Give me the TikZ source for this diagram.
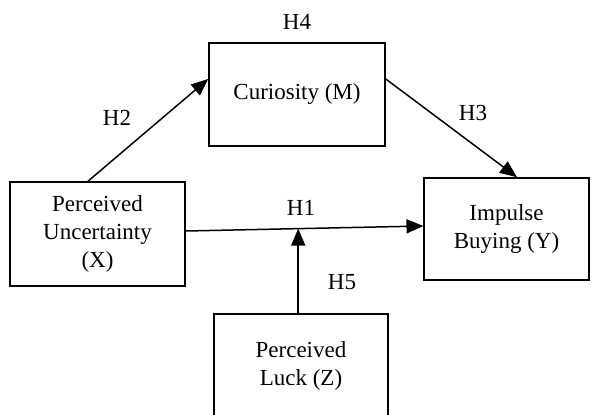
\documentclass[tikz,border=0pt]{standalone}
\usepackage{fontspec}
\setmainfont{Liberation Serif}
\usetikzlibrary{arrows.meta,calc}
\begin{document}
\begin{tikzpicture}[x=1pt,y=-1pt,
  box/.style={draw=black,line width=1.6pt,inner sep=0pt,align=center,
    font=\fontsize{23}{28}\selectfont},
  hlabel/.style={font=\fontsize{23}{28}\selectfont,inner sep=0pt},
  arr/.style={line width=1.5pt,-{Triangle[length=17pt,width=14pt]}}]
\clip (0,0) rectangle (592,415);
\useasboundingbox (0,0) rectangle (592,415);
\node[box,minimum width=176pt,minimum height=103pt] (M) at (297,94.5) {Curiosity (M)};
\node[box,minimum width=175pt,minimum height=104pt] (X) at (97.5,234) {Perceived\\Uncertainty\\(X)};
\node[box,minimum width=164.5pt,minimum height=102pt] (Y) at (506.5,229) {Impulse\\Buying (Y)};
\node[box,minimum width=174pt,minimum height=104pt] (Z) at (301,366) {Perceived\\Luck (Z)};
\node[hlabel] (h4) at (297,22) {H4};
\node[hlabel] (h2) at (117,118) {H2};
\node[hlabel] (h3) at (473,113) {H3};
\node[hlabel] (h1) at (301,208) {H1};
\node[hlabel] (h5) at (342,282) {H5};
\coordinate (xs) at ([xshift=-9.5pt]X.north);
\coordinate (me) at ([yshift=15.5pt]M.west);
\coordinate (ms) at ([yshift=15.5pt]M.east);
\coordinate (ye) at ([xshift=10.5pt]Y.north);
\coordinate (xo) at ([yshift=3pt]X.east);
\coordinate (yi) at ([yshift=3pt]Y.west);
\draw[arr] (xs) -- (me);
\draw[arr] (ms) -- (ye);
\draw[arr] (xo) -- (yi);
\coordinate (mid) at ($(xo)!0.473!(yi)$);
\draw[arr] (Z.north -| mid) -- (mid);
\end{tikzpicture}
\end{document}
